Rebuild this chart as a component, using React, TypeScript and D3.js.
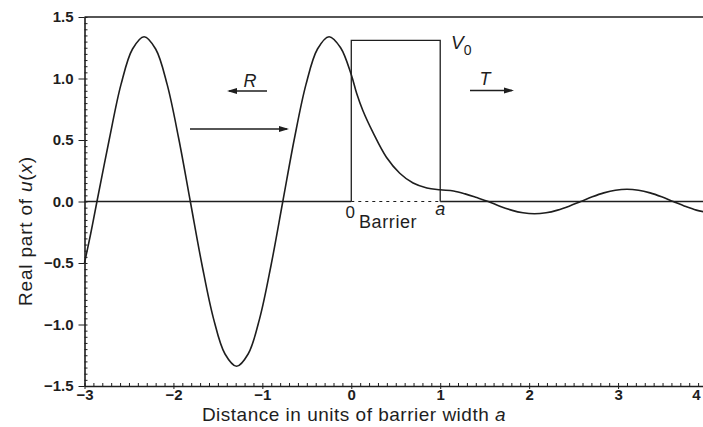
import React, { useEffect, useRef } from "react";
import * as d3 from "d3";

// wave: incident + reflected side (x < 0)
const incidentX = [-3.0, -2.93, -2.86, -2.72, -2.59, -2.46, -2.33, -2.2, -2.07, -1.94, -1.81, -1.68, -1.55, -1.42, -1.29, -1.16, -1.03, -0.9, -0.77, -0.64, -0.51, -0.38, -0.25, -0.12];
const incidentY = [-0.5, -0.26, 0.0, 0.51, 0.95, 1.24, 1.34, 1.24, 0.95, 0.51, 0.0, -0.51, -0.95, -1.24, -1.34, -1.24, -0.95, -0.51, 0.0, 0.51, 0.95, 1.24, 1.34, 1.25];

// inside the barrier (0 <= x <= a)
const barrierX = [0.0, 0.06, 0.13, 0.245, 0.395, 0.545, 0.695, 0.85, 1.0];
const barrierY = [1.03, 0.88, 0.74, 0.56, 0.36, 0.23, 0.15, 0.11, 0.095];

// transmitted side (x > a)
const transX = [1.15, 1.28, 1.41, 1.54, 1.67, 1.8, 1.93, 2.06, 2.19, 2.32, 2.45, 2.58, 2.71, 2.84, 2.97, 3.1, 3.23, 3.36, 3.49, 3.62, 3.75, 3.88, 4.0];
const transY = [0.085, 0.062, 0.032, 0.0, -0.038, -0.07, -0.092, -0.1, -0.092, -0.07, -0.038, 0.0, 0.038, 0.07, 0.092, 0.1, 0.092, 0.07, 0.038, 0.0, -0.038, -0.07, -0.088];

const barrierEdges = [0, 1];
const barrierHeight = 1.31;
const xTicks = [-3, -2, -1, 0, 1, 2, 3, 4];
const yTicks = [-1.5, -1.0, -0.5, 0.0, 0.5, 1.0, 1.5];

export default function App() {
  const ref = useRef<SVGSVGElement>(null);

  useEffect(() => {
    const width = 703;
    const ink = "#1e1e1e";
    const font = "'Liberation Sans', Arial, sans-serif";

    const svg = d3.select(ref.current);
    svg.selectAll("*").remove();

    const x = d3.scaleLinear().domain([-3, 4]).range([84.5, 707]);
    const y = d3.scaleLinear().domain([-1.5, 1.5]).range([386, 17]);

    // top frame line
    svg.append("line")
      .attr("x1", x(-3)).attr("x2", width)
      .attr("y1", y(1.5)).attr("y2", y(1.5))
      .attr("stroke", ink).attr("stroke-width", 1.6);

    // x axis, major + minor ticks
    const xg = svg.append("g")
      .attr("transform", `translate(0,${y(-1.5)})`)
      .call(d3.axisBottom(x).tickValues(xTicks).tickSize(3).tickSizeOuter(0)
        .tickPadding(2).tickFormat(d3.format("d")));
    xg.select(".domain").attr("stroke", ink).attr("stroke-width", 1.6);
    xg.selectAll(".tick line").attr("stroke", ink);
    xg.selectAll(".tick text")
      .attr("fill", ink).attr("font-family", font).attr("font-size", 15)
      .attr("font-weight", "bold").attr("dy", "0.6em")
      .attr("x", d => (d === 4 ? -11 : 0));

    svg.append("g")
      .attr("transform", `translate(0,${y(-1.5)})`)
      .call(d3.axisTop(x).tickValues(d3.range(-30, 41).map(d => d / 10))
        .tickSize(3).tickSizeOuter(0).tickFormat(() => ""))
      .call(g => g.select(".domain").remove())
      .selectAll("line").attr("stroke", ink);

    // y axis
    const yg = svg.append("g")
      .attr("transform", `translate(${x(-3)},0)`)
      .call(d3.axisLeft(y).tickValues(yTicks).tickSize(6).tickSizeOuter(0)
        .tickPadding(5).tickFormat(d3.format(".1f")));
    yg.select(".domain").attr("stroke", ink).attr("stroke-width", 1.6);
    yg.selectAll(".tick line").attr("stroke", ink);
    yg.selectAll(".tick text")
      .attr("fill", ink).attr("font-family", font).attr("font-size", 15)
      .attr("font-weight", "bold");

    svg.append("g")
      .attr("transform", `translate(${x(-3)},0)`)
      .call(d3.axisRight(y).tickValues(d3.range(-30, 31).map(d => d / 20))
        .tickSize(3).tickSizeOuter(0).tickFormat(() => ""))
      .call(g => g.select(".domain").remove())
      .selectAll("line").attr("stroke", ink);

    // zero line: solid outside barrier, dotted under it
    svg.append("line")
      .attr("x1", x(-3)).attr("x2", x(barrierEdges[0]))
      .attr("y1", y(0)).attr("y2", y(0))
      .attr("stroke", ink).attr("stroke-width", 1.4);
    svg.append("line")
      .attr("x1", x(barrierEdges[0])).attr("x2", x(barrierEdges[1]))
      .attr("y1", y(0)).attr("y2", y(0))
      .attr("stroke", ink).attr("stroke-width", 1.1)
      .attr("stroke-dasharray", "3,4");
    svg.append("line")
      .attr("x1", x(barrierEdges[1])).attr("x2", width)
      .attr("y1", y(0)).attr("y2", y(0))
      .attr("stroke", ink).attr("stroke-width", 1.4);

    // barrier box
    const bx0 = x(barrierEdges[0]);
    const bx1 = x(barrierEdges[1]);
    svg.append("path")
      .attr("d", `M${bx0},${y(0)}V${y(barrierHeight)}H${bx1}V${y(0)}`)
      .attr("fill", "none").attr("stroke", ink).attr("stroke-width", 1.3);

    // wave
    const pts: [number, number][] = [
      ...incidentX.map((d, i) => [d, incidentY[i]] as [number, number]),
      ...barrierX.map((d, i) => [d, barrierY[i]] as [number, number]),
      ...transX.map((d, i) => [d, transY[i]] as [number, number]),
    ];
    const line = d3.line<[number, number]>()
      .x(d => x(d[0]))
      .y(d => y(d[1]))
      .curve(d3.curveCatmullRom.alpha(0.5));
    svg.append("path")
      .attr("d", line(pts))
      .attr("fill", "none").attr("stroke", ink).attr("stroke-width", 1.6);

    // arrows
    const arrow = (xa: number, xb: number, yy: number) => {
      svg.append("line")
        .attr("x1", xa).attr("x2", xb).attr("y1", yy).attr("y2", yy)
        .attr("stroke", ink).attr("stroke-width", 1.4);
      const dir = Math.sign(xb - xa);
      svg.append("path")
        .attr("d", `M${xb + dir * 2},${yy}L${xb - dir * 8},${yy - 3}L${xb - dir * 8},${yy + 3}Z`)
        .attr("fill", ink);
    };
    arrow(190, 287, 129);
    arrow(267, 229, 91);
    arrow(470, 512, 90.5);

    const label = (tx: number, ty: number, s: string, size: number, italic = false, anchor = "middle") =>
      svg.append("text")
        .attr("x", tx).attr("y", ty)
        .attr("text-anchor", anchor)
        .attr("font-family", font).attr("font-size", size)
        .attr("font-style", italic ? "italic" : "normal")
        .attr("fill", ink)
        .text(s);

    label(250, 87, "R", 18, true);
    label(485, 85, "T", 18, true);
    const v = label(451, 49, "V", 19, true, "start");
    v.append("tspan").attr("font-style", "normal").attr("font-size", 14)
      .attr("dy", 6).text("0");
    label(bx0 - 1, 218, "0", 17);
    label(bx1, 215, "a", 18, true);
    label(359, 228, "Barrier", 18, false, "start").attr("letter-spacing", 0.6);

    // axis titles
    const xt = svg.append("text")
      .attr("x", 354).attr("y", 421)
      .attr("text-anchor", "middle")
      .attr("font-family", font).attr("font-size", 19)
      .attr("letter-spacing", 0.5)
      .attr("fill", ink)
      .text("Distance in units of barrier width ");
    xt.append("tspan").attr("font-style", "italic").text("a");

    const yt = svg.append("text")
      .attr("transform", `translate(32,${231}) rotate(-90)`)
      .attr("text-anchor", "middle")
      .attr("font-family", font).attr("font-size", 19)
      .attr("letter-spacing", 0.8)
      .attr("fill", ink)
      .text("Real part of ");
    yt.append("tspan").attr("font-style", "italic").text("u");
    yt.append("tspan").text("(");
    yt.append("tspan").attr("font-style", "italic").text("x");
    yt.append("tspan").text(")");
  }, []);

  return (
    <svg
      ref={ref}
      width={703}
      height={427}
      style={{ position: "absolute", left: 0, top: 0, background: "#fff" }}
    />
  );
}
